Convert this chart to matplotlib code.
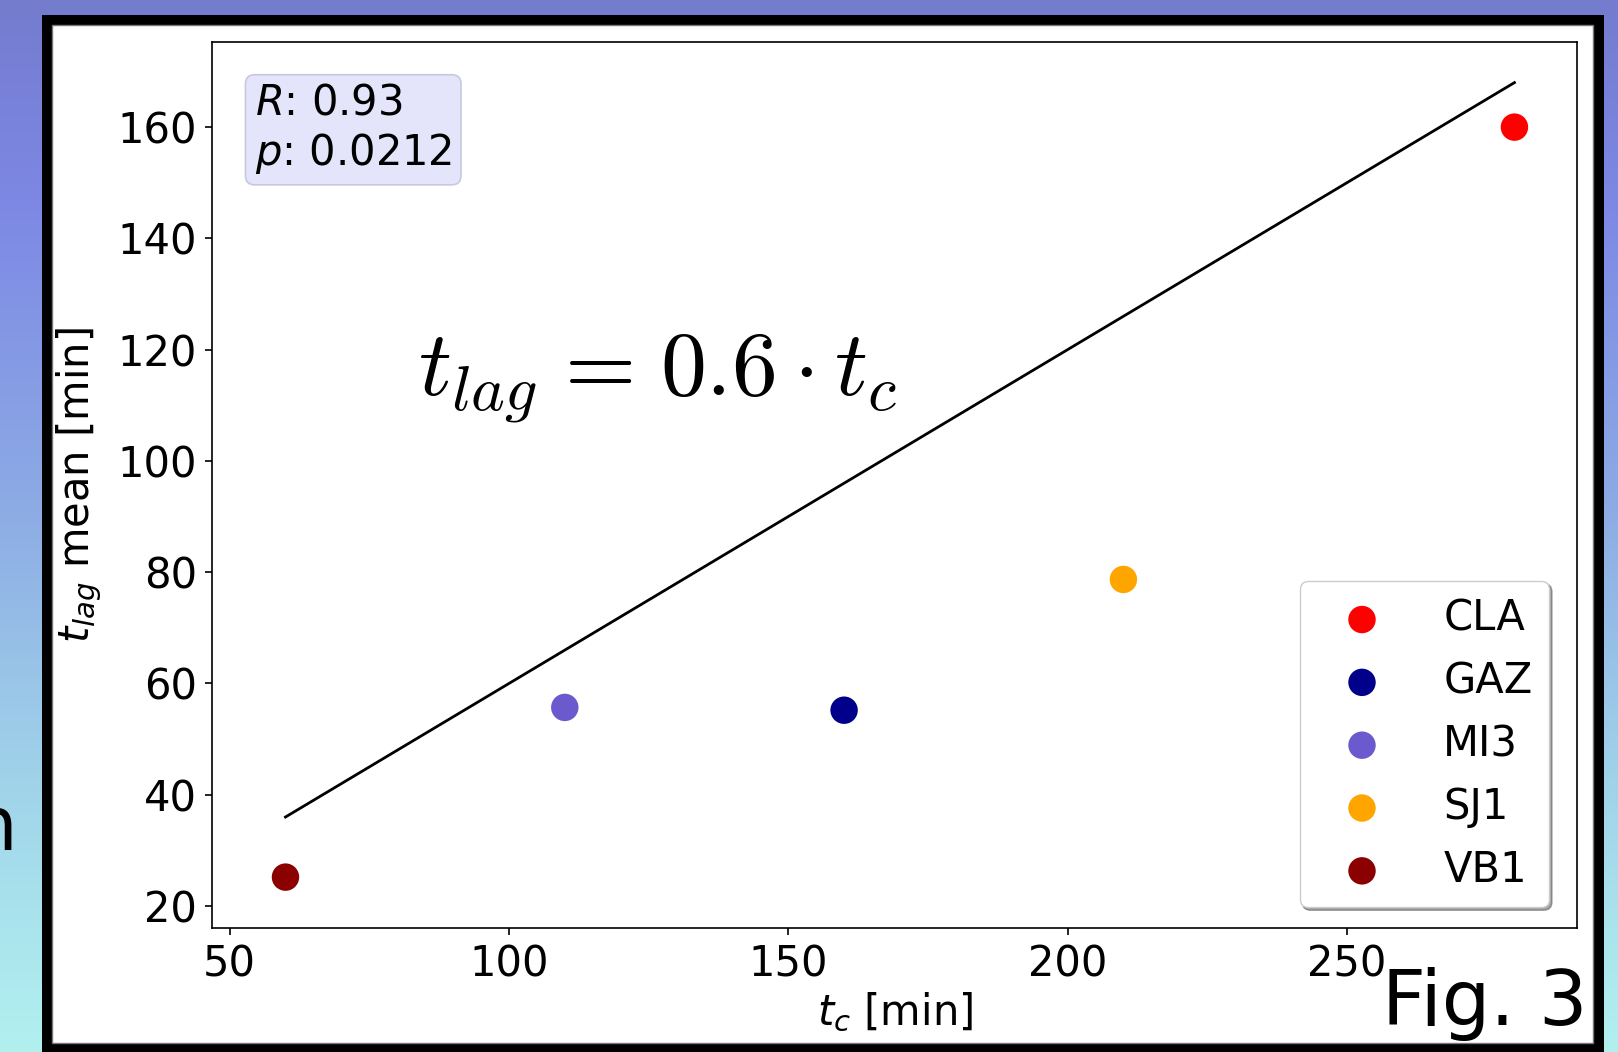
import numpy as np
import matplotlib
matplotlib.use("Agg")
import matplotlib.pyplot as plt
from matplotlib.patches import Rectangle

# ---- data ----
sites = ["CLA", "GAZ", "MI3", "SJ1", "VB1"]
tc = [280, 160, 110, 210, 60]
tlag = [160, 55.2, 55.7, 78.7, 25.2]
colors = ["red", "#00008b", "slateblue", "orange", "#8b0000"]
fit_slope = 0.6
fit_x = [60, 280]
xticks = [50, 100, 150, 200, 250]
yticks = [20, 40, 60, 80, 100, 120, 140, 160]
stats_text = "$R$: 0.93\n$p$: 0.0212"
eq_text = r"$t_{lag} \hspace{0.1}=\hspace{0.1} 0.6 \cdot t_c$"

W, H = 1618, 1052
fig = plt.figure(figsize=(W / 100, H / 100), dpi=100)

# ---- slide background gradient ----
bg = fig.add_axes([0, 0, 1, 1], zorder=-10)
bg.set_axis_off()
stops_y = np.array([0, 200, 500, 700, 900, 1052]) / H
stops_c = np.array([[116, 124, 206], [125, 136, 228], [140, 170, 228],
                    [155, 200, 232], [168, 225, 236], [178, 240, 240]]) / 255.0
yy = np.linspace(0, 1, 400)
grad = np.stack([np.interp(yy, stops_y, stops_c[:, k]) for k in range(3)], axis=-1)
img = np.repeat(grad[:, None, :], 4, axis=1)
bg.imshow(img, aspect="auto", extent=[0, 1, 1, 0], origin="upper")
bg.set_xlim(0, 1)
bg.set_ylim(1, 0)

# cut-off slide text on the left
fig.text(17 / W, 1 - 850 / H, "n", fontsize=53, ha="right", va="baseline", color="black")

# black frame and white panel
fig.patches.append(Rectangle((42 / W, 0), (1604 - 42) / W, (1052 - 15) / H,
                             transform=fig.transFigure, facecolor="black",
                             edgecolor="none", zorder=-5))
fig.patches.append(Rectangle((52 / W, 9 / H), (1593 - 52) / W, (1043 - 25) / H,
                             transform=fig.transFigure, facecolor="white",
                             edgecolor="#777777", linewidth=1.0, zorder=-4))

# ---- main axes ----
ax = fig.add_axes([212.3 / W, 1 - 928.3 / H, (1577 - 212.3) / W, (928.3 - 42) / H])
for name, x, y, c in zip(sites, tc, tlag, colors):
    ax.scatter(x, y, s=390, color=c, label=name, zorder=3, edgecolors="none")
fx = np.array(fit_x, dtype=float)
ax.plot(fx, fit_slope * fx, color="black", lw=2.0, zorder=2)

ax.set_xlim(46.9, 291.2)
ax.set_ylim(16.0, 175.3)
ax.set_xticks(xticks)
ax.set_yticks(yticks)
ax.tick_params(labelsize=30, length=5, width=1.2, pad=6)
for s in ax.spines.values():
    s.set_linewidth(1.2)

ax.set_xlabel(r"$t_c$ [min]", fontsize=30, labelpad=4)
ax.set_ylabel(r"$t_{lag}$ mean [min]", fontsize=30, labelpad=10)

ax.text(0.031, 0.955, stats_text, transform=ax.transAxes, fontsize=30,
        va="top", ha="left",
        bbox=dict(boxstyle="round,pad=0.22", facecolor="#e4e4fa",
                  edgecolor="#c8c8e0", linewidth=1.2))

ax.text(0.151, 0.6016, eq_text, transform=ax.transAxes, fontsize=66,
        ha="left", va="baseline", math_fontfamily="cm")

leg = ax.legend(loc="lower right", bbox_to_anchor=(1 - 7 / 1364.7, 0.0),
                fontsize=30, fancybox=True, shadow=True,
                scatterpoints=1, handlelength=2.2, handletextpad=0.85,
                borderpad=0.4, labelspacing=0.5, framealpha=1.0)

fig.text(1587 / W, 1 - 1025 / H, "Fig. 3", fontsize=55, ha="right", va="baseline")

fig.savefig("out.png", dpi=100)
